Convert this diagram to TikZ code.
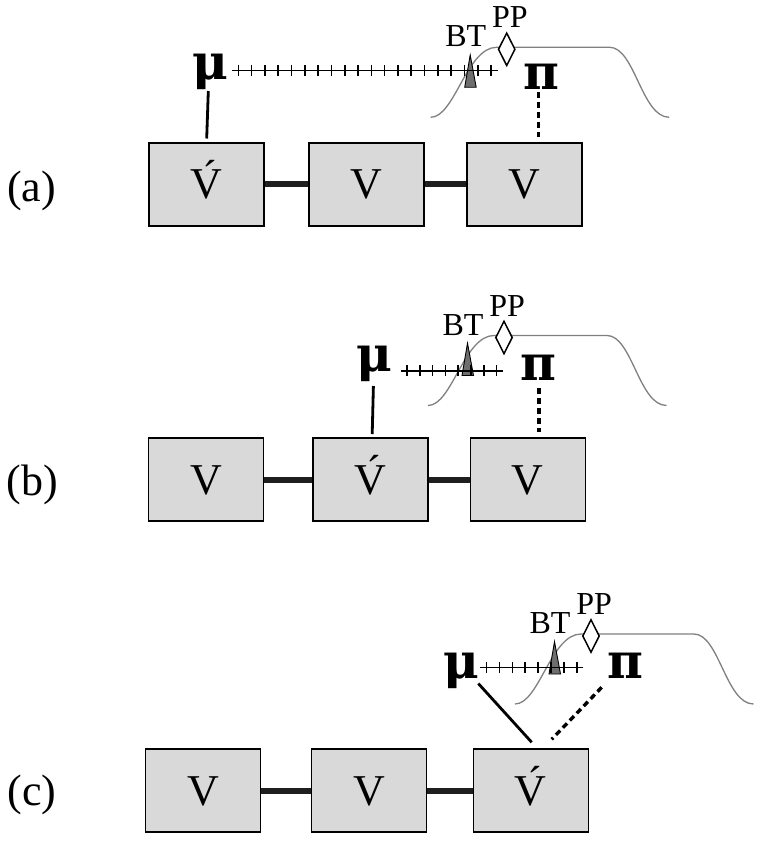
\documentclass[tikz,border=0pt]{standalone}
\usepackage{fontspec}
\setmainfont{Liberation Serif}
\newfontfamily\greekfont{DejaVu Serif}
\usetikzlibrary{shapes.geometric}
\definecolor{boxgray}{HTML}{D9D9D9}
\definecolor{curvegray}{HTML}{808080}
\definecolor{trigray}{HTML}{6E6E6E}
\begin{document}
\begin{tikzpicture}[x=1pt,y=-1pt,
  vbox/.style={draw, line width=1.4pt, fill=boxgray, minimum width=115pt, minimum height=83pt, inner sep=0pt, font=\fontsize{44}{50}\selectfont, text height=29pt, text depth=0pt},
  link/.style={line width=6pt, draw=black!88},
  greektext/.style={font=\greekfont\bfseries\fontsize{49}{54}\selectfont, inner sep=0pt, anchor=base},
  smalltext/.style={font=\fontsize{32}{36}\selectfont, inner sep=0pt, anchor=base},
  paneltext/.style={font=\fontsize{44}{50}\selectfont, inner sep=0pt, anchor=base},
  curveline/.style={draw=curvegray, line width=1.3pt},
  trishape/.style={draw=black, line width=0.9pt, fill=trigray},
  ppshape/.style={diamond, draw, line width=1.5pt, fill=white, minimum width=17pt, minimum height=33pt, inner sep=0pt},
  plusline/.style={line width=1.6pt},
  muline/.style={line width=2.8pt},
  piline/.style={line width=3.4pt, dash pattern=on 6pt off 4pt}
]
\useasboundingbox (0,0) rectangle (762,842);

% ---------- panel (a)
\node[paneltext] (la) at (31.7,202) {(a)};
\node[vbox] (a1) at (206.5,184.5) {\'V};
\node[vbox] (a2) at (366.5,184.5) {V};
\node[vbox] (a3) at (524.5,184.5) {V};
\draw[link] (a1.east) -- (a2.west);
\draw[link] (a2.east) -- (a3.west);
\begin{scope}[shift={(506.7,49.3)}]
  \draw[curveline] (-76,68) .. controls (-52,68) and (-40,-2) .. (-10,-2) -- (103,-2) .. controls (128,-2) and (135,68) .. (162.5,68);
  \draw[trishape] (-36.5,5.7) -- (-42,38) -- (-30.5,38) -- cycle;
\end{scope}
\draw[plusline] (231.7,70.7) -- (498.3,70.7);
\foreach \i [evaluate=\i as \xx using 238.3+13.3*\i] in {0,...,19}
  \draw[plusline] (\xx,65.2) -- (\xx,76.2);
\begin{scope}[shift={(506.7,49.3)}]
  \node[ppshape] (aPP) at (0,0) {};
  \node[smalltext] (aPPl) at (3.2,-21.5) {PP};
  \node[smalltext] (aBT) at (-41,-2.5) {BT};
\end{scope}
\node[greektext] (amu) at (210,80) {μ};
\node[greektext] (api) at (541.7,90) {π};
\coordinate (amuT) at (208.3,91);
\coordinate (amuB) at (206.7,138.5);
\coordinate (apiT) at (538.3,92.5);
\coordinate (apiB) at (538.3,137);
\draw[muline] (amuT) -- (amuB);
\draw[piline] (apiT) -- (apiB);

% ---------- panel (b)
\node[paneltext] (lb) at (32.5,495) {(b)};
\node[vbox] (b1) at (206,479.5) {V};
\node[vbox] (b2) at (370.5,479.5) {\'V};
\node[vbox] (b3) at (527.8,479.5) {V};
\draw[link] (b1.east) -- (b2.west);
\draw[link] (b2.east) -- (b3.west);
\begin{scope}[shift={(504,337.5)}]
  \draw[curveline] (-76,68) .. controls (-52,68) and (-40,-2) .. (-10,-2) -- (103,-2) .. controls (128,-2) and (135,68) .. (162.5,68);
  \draw[trishape] (-36.5,5.7) -- (-42,38) -- (-30.5,38) -- cycle;
\end{scope}
\draw[plusline] (400.5,370.7) -- (503,370.7);
\foreach \i [evaluate=\i as \xx using 406.9+12.8*\i] in {0,...,7}
  \draw[plusline] (\xx,365.2) -- (\xx,376.2);
\begin{scope}[shift={(504,337.5)}]
  \node[ppshape] (bPP) at (0,0) {};
  \node[smalltext] (bPPl) at (3.2,-21.5) {PP};
  \node[smalltext] (bBT) at (-41,-2.5) {BT};
\end{scope}
\node[greektext] (bmu) at (374.6,371.7) {μ};
\node[greektext] (bpi) at (538.5,380) {π};
\coordinate (bmuT) at (373.4,386);
\coordinate (bmuB) at (372.2,434);
\coordinate (bpiT) at (539,388);
\coordinate (bpiB) at (539,432);
\draw[muline] (bmuT) -- (bmuB);
\draw[piline] (bpiT) -- (bpiB);

% ---------- panel (c)
\node[paneltext] (lc) at (32,805) {(c)};
\node[vbox] (c1) at (203,790.5) {V};
\node[vbox] (c2) at (369,790.5) {V};
\node[vbox] (c3) at (530.8,790.5) {\'V};
\draw[link] (c1.east) -- (c2.west);
\draw[link] (c2.east) -- (c3.west);
\begin{scope}[shift={(591,636)}]
  \draw[curveline] (-76,68) .. controls (-52,68) and (-40,-2) .. (-10,-2) -- (103,-2) .. controls (128,-2) and (135,68) .. (162.5,68);
  \draw[trishape] (-36.5,5.7) -- (-42,38) -- (-30.5,38) -- cycle;
\end{scope}
\draw[plusline] (480,667.3) -- (583.3,667.3);
\foreach \i [evaluate=\i as \xx using 486.5+12.9*\i] in {0,...,7}
  \draw[plusline] (\xx,661.8) -- (\xx,672.8);
\begin{scope}[shift={(591,636)}]
  \node[ppshape] (cPP) at (0,0) {};
  \node[smalltext] (cPPl) at (3.2,-21.5) {PP};
  \node[smalltext] (cBT) at (-41,-2.5) {BT};
\end{scope}
\node[greektext] (cmu) at (461.7,678) {μ};
\node[greektext] (cpi) at (625,678) {π};
\coordinate (cmuT) at (478.3,683.5);
\coordinate (cmuB) at (531.7,742.3);
\coordinate (cpiT) at (601.7,687.3);
\coordinate (cpiB) at (551.7,739.3);
\draw[muline] (cmuT) -- (cmuB);
\draw[piline] (cpiT) -- (cpiB);
\end{tikzpicture}
\end{document}
